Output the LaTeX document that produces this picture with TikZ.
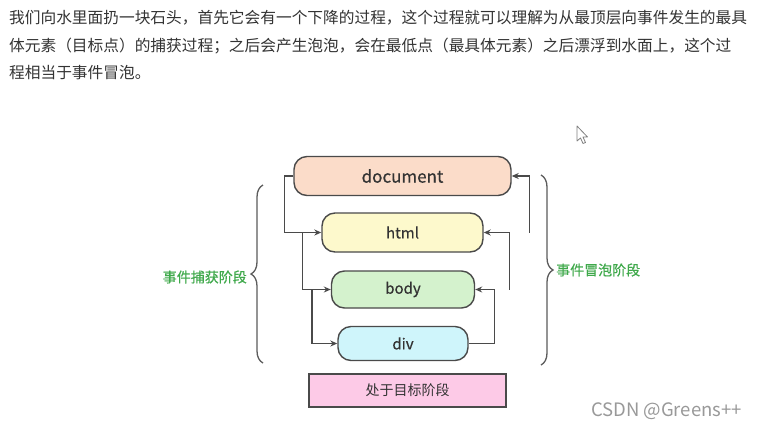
\documentclass[tikz,border=0pt]{standalone}
\usepackage{fontspec}
\setmainfont{Noto Sans CJK SC}
\newfontfamily\cjk{Noto Sans CJK SC}
\newfontfamily\cjkb[FakeBold=0.6]{Noto Sans CJK SC}
\usetikzlibrary{arrows.meta,decorations.pathreplacing}
\definecolor{txt}{HTML}{333333}
\definecolor{edge}{HTML}{4A4A4A}
\definecolor{docfill}{HTML}{FBDCC9}
\definecolor{htmlfill}{HTML}{FDF9CC}
\definecolor{bodyfill}{HTML}{D4F2CD}
\definecolor{divfill}{HTML}{CFF5FB}
\definecolor{tgtfill}{HTML}{FDCAE7}
\definecolor{grn}{HTML}{3FA94B}
\tikzset{
  elbox/.style={draw=edge, line width=1.4pt, rounded corners=13pt, text=txt, inner sep=0pt},
  conn/.style={draw=edge, line width=1.4pt, -{Stealth[length=7pt,width=6pt]}},
  bracestyle/.style={draw=edge!90, line width=1.3pt, decorate, decoration={brace, amplitude=12pt, aspect=0.5}},
  para/.style={anchor=west, text=txt, font=\cjk\fontsize{15.7}{18}\selectfont, inner sep=0pt},
  phase/.style={text=grn, font=\cjkb\fontsize{14}{16}\selectfont, inner sep=0pt},
}
\begin{document}
\begin{tikzpicture}[x=1pt,y=-1pt]
\fill[white] (0,0) rectangle (761,432);
\useasboundingbox (0,0) rectangle (761,432);

\node[para] (l1) at (9,18) {我们向水里面扔一块石头，首先它会有一个下降的过程，这个过程就可以理解为从最顶层向事件发生的最具};
\node[para] (l2) at (9,46) {体元素（目标点）的捕获过程；之后会产生泡泡，会在最低点（最具体元素）之后漂浮到水面上，这个过};
\node[para] (l3) at (9,73) {程相当于事件冒泡。};

\node[elbox, fill=docfill, minimum width=217pt, minimum height=39pt, font=\cjkb\fontsize{17}{20}\selectfont] (doc) at (402.5,176) {document};
\node[elbox, fill=htmlfill, minimum width=161pt, minimum height=39pt, font=\cjkb\fontsize{15}{18}\selectfont] (html) at (402.5,232.5) {html};
\node[elbox, fill=bodyfill, minimum width=143pt, minimum height=37pt, font=\cjkb\fontsize{15}{18}\selectfont] (body) at (403,289.5) {body};
\node[elbox, fill=divfill, minimum width=130pt, minimum height=34pt, font=\cjkb\fontsize{15}{18}\selectfont] (div) at (403,343.5) {div};
\node[draw=edge, line width=1.4pt, fill=tgtfill, text=txt, minimum width=197pt, minimum height=33pt, inner sep=0pt, font=\cjk\fontsize{14}{16}\selectfont] (tgt) at (407.5,390.5) {处于目标阶段};

% capture
\draw[conn] (doc.west) -- ++(-9,0) |- (html.west);
\draw[conn] ([xshift=-19pt]html.west) |- (body.west);
\draw[conn] ([xshift=-19pt]body.west) |- (div.west);
% bubble
\draw[conn] (div.east) -- ++(26,0) |- (body.east);
\draw[conn] ([xshift=34pt]body.east) |- (html.east);
\draw[conn] ([xshift=46pt]html.east) |- (doc.east);

% braces
\coordinate (lb1) at (263,363);
\coordinate (lb2) at (263,185);
\draw[bracestyle] (lb1) -- (lb2);
\coordinate (rb1) at (541,175);
\coordinate (rb2) at (541,365);
\draw[bracestyle] (rb1) -- (rb2);
\node[phase, anchor=east] (cap) at (247,277) {事件捕获阶段};
\node[phase, anchor=west] (bub) at (556,270) {事件冒泡阶段};

% cursor
\draw[draw=gray, fill=white, line width=0.8pt, line join=round] (577,126) -- (577,141) -- (580.5,138) -- (583,143.5) -- (585.5,142.5) -- (583,137) -- (587.5,137) -- cycle;

% watermark
\node[anchor=east, text=black!40, font=\cjk\fontsize{18.5}{20}\selectfont, inner sep=0pt] (wm) at (742,411) {CSDN @Greens++};
\end{tikzpicture}
\end{document}
